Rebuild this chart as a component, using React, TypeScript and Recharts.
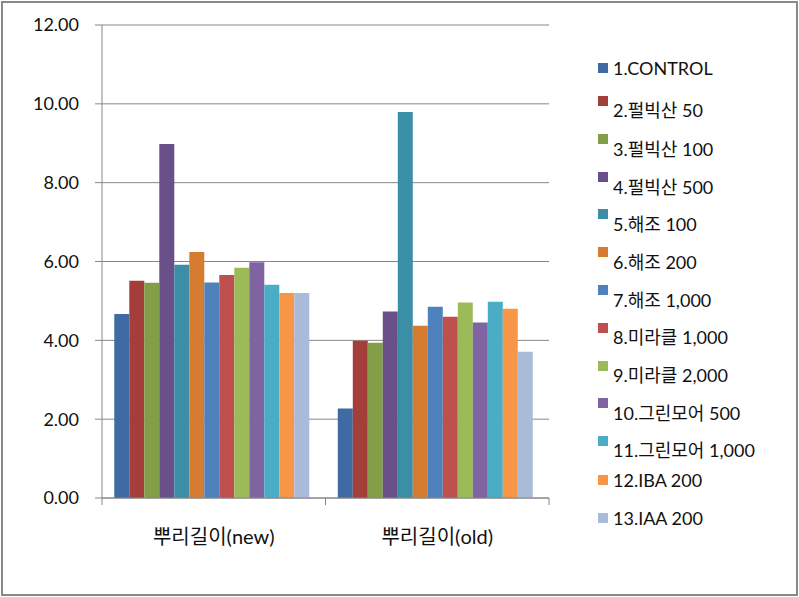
import React from "react";
import { BarChart, Bar, XAxis, YAxis, CartesianGrid, Legend } from "recharts";

const categories = ["뿌리길이(new)", "뿌리길이(old)"];
const seriesNames = [
  "1.CONTROL",
  "2.펄빅산 50",
  "3.펄빅산 100",
  "4.펄빅산 500",
  "5.해조 100",
  "6.해조 200",
  "7.해조 1,000",
  "8.미라클 1,000",
  "9.미라클 2,000",
  "10.그린모어 500",
  "11.그린모어 1,000",
  "12.IBA 200",
  "13.IAA 200",
];
const newValues = [4.67, 5.51, 5.46, 8.98, 5.92, 6.24, 5.47, 5.66, 5.84, 5.98, 5.41, 5.2, 5.2];
const oldValues = [2.27, 3.99, 3.94, 4.73, 9.79, 4.37, 4.85, 4.6, 4.96, 4.45, 4.98, 4.8, 3.71];
const yTicks = [0, 2, 4, 6, 8, 10, 12];

const colors = [
  "#3F6AA3",
  "#A33E3B",
  "#849E47",
  "#6A5089",
  "#3A8FA7",
  "#D57C30",
  "#4F81BD",
  "#C0504D",
  "#9BBB59",
  "#8064A2",
  "#4BACC6",
  "#F79646",
  "#A9BBD9",
];
// legend text / square vertical centres (styling)
const legendTextY = [68, 110, 149, 187, 224, 262, 300, 337, 375, 413, 450, 480, 518];
const legendSquareY = [68, 101, 139, 177, 214, 252, 290, 328, 366, 403, 441, 480, 518];

const data = categories.map((c, ci) => {
  const row: Record<string, string | number> = { name: c };
  seriesNames.forEach((s, si) => {
    row[s] = ci === 0 ? newValues[si] : oldValues[si];
  });
  return row;
});

const FONT = "Lato, 'Noto Sans CJK KR', sans-serif";

const XTick = (props: any) => {
  const { x, y, payload, index } = props;
  const off = payload && payload.offset ? payload.offset : 0;
  return (
    <g>
      <line x1={x - off} x2={x - off} y1={y - 8} y2={y - 1} stroke="#868686" />
      {index === categories.length - 1 && (
        <line x1={x + off} x2={x + off} y1={y - 8} y2={y - 1} stroke="#868686" />
      )}
      <text x={x} y={y + 38} textAnchor="middle" fontSize={20} fill="#111" fontFamily={FONT}>
        {payload.value}
      </text>
    </g>
  );
};

const LegendContent = () => (
  <svg width={200} height={560} style={{ overflow: "visible" }}>
    {seriesNames.map((s, i) => (
      <g key={s}>
        <rect x={0} y={legendSquareY[i] - 5} width={10} height={10} fill={colors[i]} />
        <text x={15} y={legendTextY[i]} dominantBaseline="central" fontSize={18} fill="#111" fontFamily={FONT}>
          {s}
        </text>
      </g>
    ))}
  </svg>
);

export default function App() {
  return (
    <div style={{ position: "absolute", left: 0, top: 0, width: 799, height: 597, background: "#fff" }}>
      <div
        style={{
          position: "absolute",
          left: 1,
          top: 1,
          width: 793,
          height: 591,
          border: "2px solid #898989",
        }}
      />
      <BarChart
        width={799}
        height={597}
        data={data}
        margin={{ top: 25, right: 50, bottom: 59, left: 0 }}
        barCategoryGap="5.5%"
        barGap={0}
      >
        <CartesianGrid vertical={false} stroke="#868686" strokeWidth={1} />
        <XAxis
          dataKey="name"
          height={40}
          axisLine={{ stroke: "#868686" }}
          tickLine={false}
          tick={<XTick />}
          interval={0}
        />
        <YAxis
          width={102}
          domain={[0, 12]}
          ticks={yTicks}
          interval={0}
          tickFormatter={(v: number) => v.toFixed(2)}
          axisLine={{ stroke: "#868686" }}
          tickLine={{ stroke: "#868686" }}
          tickSize={7}
          tickMargin={16}
          tick={{ fontSize: 18, fill: "#111", fontFamily: FONT }}
        />
        <Legend
          layout="vertical"
          align="right"
          verticalAlign="top"
          content={<LegendContent />}
          wrapperStyle={{ position: "absolute", left: 598, top: 0, width: 200 }}
        />
        {seriesNames.map((s, i) => (
          <Bar key={s} dataKey={s} fill={colors[i]} isAnimationActive={false} />
        ))}
      </BarChart>
    </div>
  );
}
